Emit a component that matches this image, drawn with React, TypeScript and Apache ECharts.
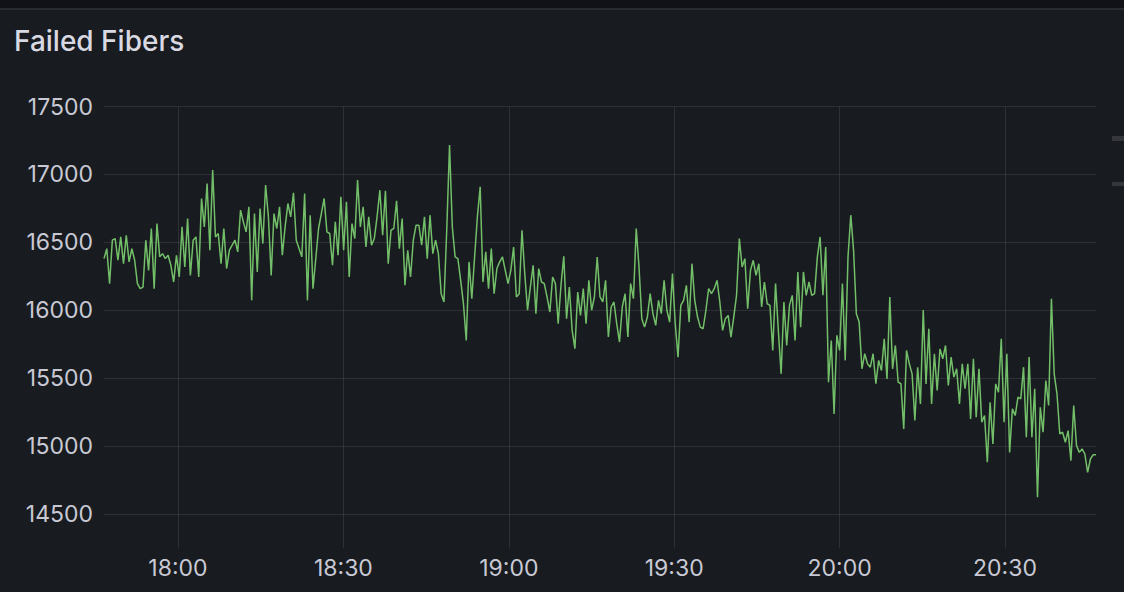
import React, { useEffect, useRef } from "react";
import * as echarts from "echarts";

// ---- Data ----
const TITLE = "Failed Fibers";
// Y-axis tick values
const Y_TICKS = [14500, 15000, 15500, 16000, 16500, 17000, 17500];
// X-axis tick labels (hh:mm)
const X_TICKS = ["18:00", "18:30", "19:00", "19:30", "20:00", "20:30"];
// Time range of the series (hh, mm, ss)
const START = [17, 46, 35];
const END = [20, 46, 30];

// Series values, split by time segment
const SEG_1746_1815 = [16380,16454,16196,16516,16528,16368,16540,16343,16552,16356,16454,16368,16196,16159,16171,16516,16294,16602,16159,16638,16393,16417,16380,16405,16331,16208,16405,16245,16614,16319,16675,16257,16516,16540,16245,16823,16614,16933,16442,17032,16540,16565,16343,16602,16307,16442,16479,16516,16430,16737,16651,16577,16761,16073,16712,16282,16749,16491];
const SEG_1815_1844 = [16921,16688,16257,16712,16602,16761,16405,16614,16786,16688,16865,16516,16454,16393,16860,16073,16700,16159,16380,16602,16712,16823,16577,16565,16331,16651,16405,16835,16442,16798,16245,16638,16528,16958,16614,16761,16466,16688,16479,16528,16688,16884,16552,16879,16343,16589,16602,16806,16454,16675,16184,16442,16245,16516,16626,16626,16479];
const SEG_1844_1915 = [16688,16380,16700,16417,16516,16417,16122,16061,16589,17216,16614,16393,16380,16220,16048,15778,16356,16085,16393,16688,16909,16208,16430,16159,16454,16122,16307,16356,16393,16294,16196,16294,16466,16098,16122,16589,16270,16000,16171,16331,15975,16307,16208,16196,16098,15987,16245,16196,15901,16184,16398,15938,16171,15852,15717,16134,15962,16159,15901,16220,16000];
const SEG_1915_1945 = [16098,16392,16098,16061,16220,15803,16024,16061,15901,15766,16024,16122,15803,16196,16085,16601,16319,15938,15876,15950,16122,15975,15889,16073,15975,16220,16000,15913,16270,15901,15655,16036,16073,16184,15913,16343,16073,15950,15876,15864,16000,16159,16122,16159,16220,16061,15852,15938,15962,15803,15950,16110,16528,16319,16380,16012,16294,16368,16257];
const SEG_1945_2015 = [16343,16024,16208,16048,16036,15704,16196,15852,15532,16061,15741,16036,16110,15778,16282,15876,16282,16110,16208,16110,16122,16393,16540,16110,16466,15471,15778,15237,15815,15704,16196,15631,16393,16700,16442,15975,15913,15569,15680,15606,15581,15680,15459,15631,15557,15790,15495,16098,15569,15741,15471,15459,15127,15704,15606,15532,15188,15581,15311];
const SEG_2015_2046 = [16001,15458,15864,15311,15680,15409,15716,15643,15741,15446,15655,15508,15569,15311,15606,15422,15606,15200,15643,15213,15569,15176,15225,14881,15323,15016,15458,15397,15790,15176,15680,14954,15274,15225,15360,15348,15581,15065,15655,15065,15422,14623,15286,15102,15483,15299,16085,15532,15385,15090,15102,15028,15114,14893,15299,15004,14954,14979,14942,14807,14905,14937,14937];

const VALUES = [
  ...SEG_1746_1815,
  ...SEG_1815_1844,
  ...SEG_1844_1915,
  ...SEG_1915_1945,
  ...SEG_1945_2015,
  ...SEG_2015_2046,
];

// time expressed as minutes since midnight
const toMin = (h: number, m: number, s: number) => h * 60 + m + s / 60;
const t0 = toMin(START[0], START[1], START[2]);
const t1 = toMin(END[0], END[1], END[2]);
const STEP = (t1 - t0) / (VALUES.length - 1);
const SERIES = VALUES.map((v, i) => [t0 + i * STEP, v]);
const X_TICK_VALUES = X_TICKS.map((s) => {
  const [h, m] = s.split(":").map(Number);
  return toMin(h, m, 0);
});

const pad = (n: number) => (n < 10 ? "0" + n : "" + n);

export default function App() {
  const ref = useRef<HTMLDivElement>(null);

  useEffect(() => {
    if (!ref.current) return;
    const chart = echarts.init(ref.current, undefined, { renderer: "svg" });
    const textColor = "#c8c9d4";
    const gridColor = "rgba(204,204,220,0.12)";
    chart.setOption({
      animation: false,
      backgroundColor: "#181b1f",
      title: {
        text: TITLE,
        left: 9,
        top: 22,
        textStyle: {
          color: "#d8d9e2",
          fontFamily: "Inter",
          fontSize: 28,
          fontWeight: 500,
        },
      },
      graphic: [
        { type: "rect", shape: { x: 0, y: 0, width: 1124, height: 8 }, style: { fill: "#111217" } },
        { type: "rect", shape: { x: 0, y: 8, width: 1124, height: 2 }, style: { fill: "#2a2c31" } },
        { type: "rect", shape: { x: 1112, y: 136, width: 12, height: 5 }, style: { fill: "#34363c" } },
        { type: "rect", shape: { x: 1112, y: 182, width: 12, height: 4 }, style: { fill: "#34363c" } },
      ],
      grid: { left: 104, right: 28, top: 106.5, bottom: 44 },
      xAxis: {
        type: "value",
        min: t0,
        max: t1,
        axisLine: { show: false },
        axisTick: { show: false, customValues: X_TICK_VALUES },
        splitLine: { show: true, lineStyle: { color: gridColor, width: 1 } },
        axisLabel: {
          customValues: X_TICK_VALUES,
          color: textColor,
          fontFamily: "Inter",
          fontSize: 23,
          margin: 8,
          hideOverlap: false,
          formatter: (val: number) => {
            const mins = Math.round(val);
            return pad(Math.floor(mins / 60)) + ":" + pad(mins % 60);
          },
        },
      },
      yAxis: {
        type: "value",
        min: 14250,
        max: 17500,
        axisLine: { show: false },
        axisTick: { show: false, customValues: Y_TICKS },
        splitLine: { show: true, lineStyle: { color: gridColor, width: 1 } },
        axisLabel: {
          customValues: Y_TICKS,
          color: textColor,
          fontFamily: "Inter",
          fontSize: 23,
          margin: 11,
          formatter: (v: number) => String(v),
        },
      },
      series: [
        {
          type: "line",
          data: SERIES,
          showSymbol: false,
          symbol: "none",
          lineStyle: { color: "#73bf69", width: 1.5 },
          itemStyle: { color: "#73bf69" },
        },
      ],
    });
    return () => chart.dispose();
  }, []);

  return (
    <div
      ref={ref}
      style={{ position: "fixed", left: 0, top: 0, width: 1124, height: 592, background: "#181b1f" }}
    />
  );
}
